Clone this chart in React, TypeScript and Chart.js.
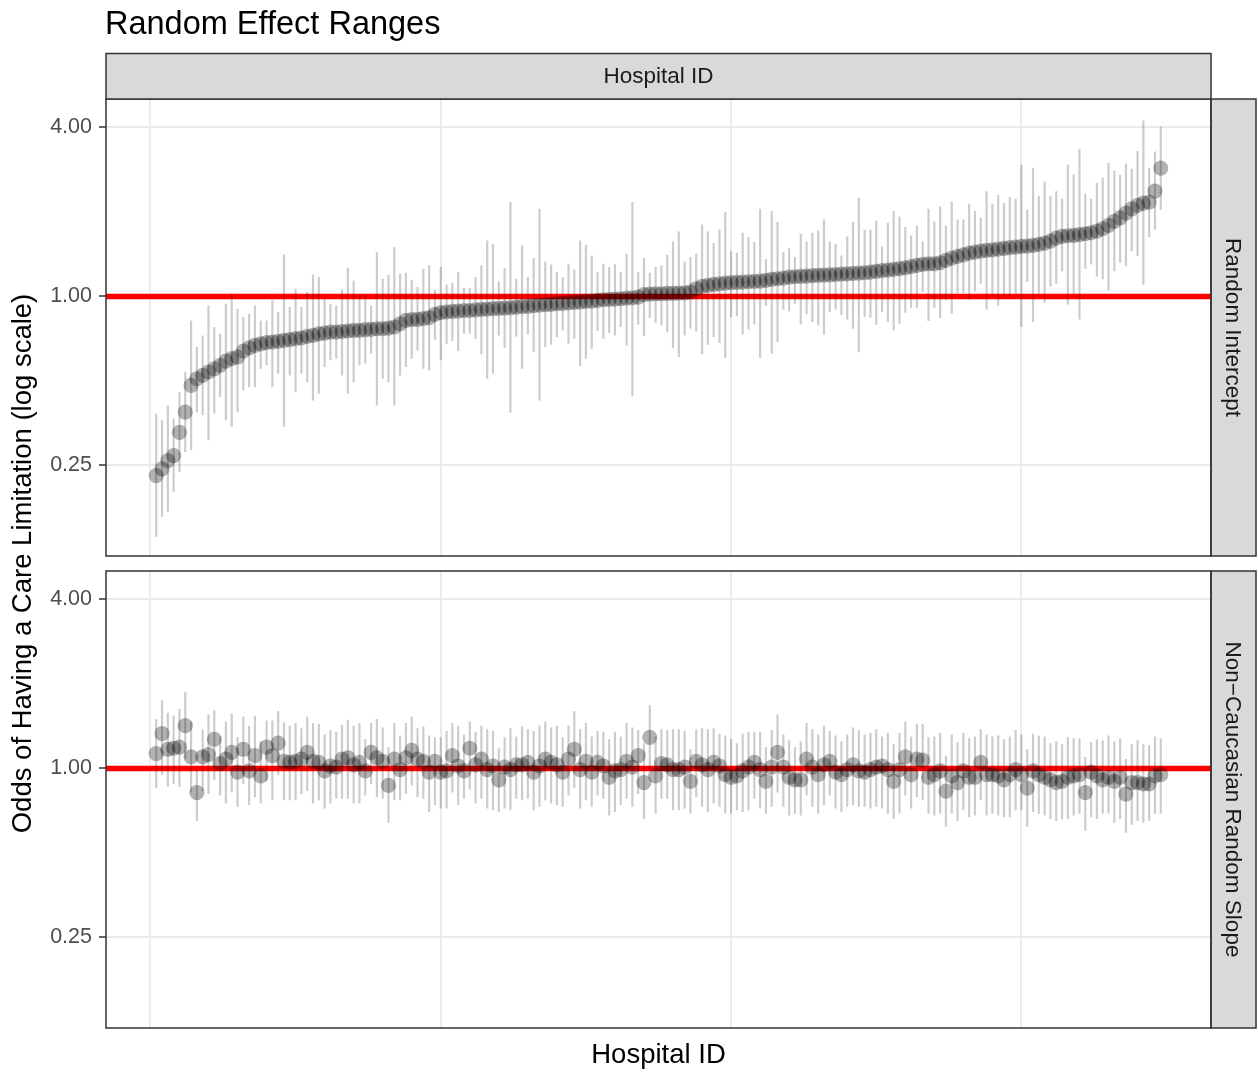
import React, { useEffect, useRef } from "react";
import { Chart, registerables } from "chart.js";

Chart.register(...registerables);

const FONT = '"Liberation Sans", Arial, Helvetica, sans-serif';

// x: hospitals ranked by their random intercept
const hospitalRank = Array.from({ length: 174 }, (_, i) => i + 1);
const yTickValues = [0.25, 1, 4];
const xGridValues = [0, 50, 100, 150];
const titleText = "Random Effect Ranges";
const stripTopText = "Hospital ID";
const panelLabels = ["Random Intercept", "Non\u2212Caucasian Random Slope"];
const xAxisTitle = "Hospital ID";
const yAxisTitle = "Odds of Having a Care Limitation (log scale)";
const referenceLine = 1;

const interceptEst = [
  0.230, 0.243, 0.260, 0.271, 0.328, 0.387, 0.482, 0.509, 0.523, 0.538,
  0.552, 0.568, 0.588, 0.600, 0.608, 0.639, 0.656, 0.669, 0.678, 0.684,
  0.688, 0.691, 0.697, 0.701, 0.707, 0.711, 0.720, 0.726, 0.736, 0.740,
  0.746, 0.746, 0.750, 0.753, 0.757, 0.757, 0.761, 0.763, 0.767, 0.767,
  0.771, 0.778, 0.799, 0.821, 0.826, 0.828, 0.833, 0.840, 0.863, 0.875,
  0.880, 0.884, 0.886, 0.891, 0.891, 0.896, 0.899, 0.901, 0.904, 0.906,
  0.909, 0.911, 0.916, 0.919, 0.921, 0.927, 0.931, 0.934, 0.936, 0.942,
  0.944, 0.949, 0.952, 0.955, 0.960, 0.962, 0.968, 0.973, 0.976, 0.978,
  0.981, 0.986, 0.989, 0.994, 1.014, 1.019, 1.022, 1.022, 1.025, 1.025,
  1.028, 1.030, 1.036, 1.065, 1.085, 1.094, 1.103, 1.109, 1.116, 1.119,
  1.122, 1.125, 1.128, 1.131, 1.134, 1.140, 1.150, 1.156, 1.162, 1.172,
  1.175, 1.178, 1.181, 1.185, 1.188, 1.191, 1.194, 1.197, 1.201, 1.204,
  1.208, 1.211, 1.214, 1.221, 1.228, 1.235, 1.241, 1.248, 1.255, 1.265,
  1.276, 1.290, 1.300, 1.307, 1.307, 1.318, 1.344, 1.369, 1.388, 1.407,
  1.427, 1.439, 1.451, 1.458, 1.466, 1.474, 1.482, 1.491, 1.499, 1.507,
  1.511, 1.519, 1.532, 1.549, 1.575, 1.614, 1.636, 1.645, 1.649, 1.659,
  1.672, 1.686, 1.709, 1.742, 1.790, 1.850, 1.906, 1.981, 2.052, 2.110,
  2.150, 2.168, 2.373, 2.866,
];

const interceptLo = [
  0.139, 0.164, 0.171, 0.201, 0.237, 0.279, 0.283, 0.387, 0.377, 0.307,
  0.382, 0.438, 0.362, 0.343, 0.387, 0.462, 0.475, 0.475, 0.552, 0.568,
  0.475, 0.530, 0.343, 0.523, 0.456, 0.530, 0.495, 0.426, 0.450, 0.560,
  0.592, 0.600, 0.523, 0.450, 0.495, 0.568, 0.575, 0.625, 0.409, 0.509,
  0.495, 0.409, 0.523, 0.560, 0.600, 0.642, 0.552, 0.545, 0.701, 0.592,
  0.678, 0.693, 0.639, 0.736, 0.736, 0.707, 0.622, 0.509, 0.530, 0.726,
  0.655, 0.385, 0.720, 0.552, 0.732, 0.633, 0.426, 0.660, 0.673, 0.716,
  0.757, 0.678, 0.707, 0.565, 0.600, 0.651, 0.753, 0.707, 0.740, 0.726,
  0.778, 0.669, 0.441, 0.792, 0.722, 0.837, 0.803, 0.788, 0.745, 0.655,
  0.608, 0.726, 0.767, 0.750, 0.622, 0.673, 0.716, 0.682, 0.603, 0.844,
  0.849, 0.732, 0.761, 0.795, 0.603, 0.924, 0.625, 0.688, 0.896, 0.884,
  0.942, 0.795, 0.863, 0.810, 0.788, 0.730, 0.880, 0.899, 0.860, 0.828,
  0.767, 0.633, 0.844, 0.840, 0.792, 0.880, 0.810, 0.757, 0.799, 0.875,
  0.911, 0.911, 1.036, 0.817, 0.911, 0.837, 0.968, 0.868, 1.028, 1.028,
  0.973, 1.042, 1.109, 0.896, 1.008, 0.929, 1.008, 1.003, 1.022, 0.778,
  1.125, 0.810, 1.022, 0.949, 1.085, 1.109, 1.228, 0.936, 1.014, 0.828,
  1.255, 1.300, 1.178, 1.150, 1.050, 1.228, 1.318, 1.282, 1.447, 1.392,
  1.100, 1.627, 1.728, 2.036,
];

const interceptHi = [
  0.382, 0.362, 0.409, 0.367, 0.456, 0.538, 0.821, 0.660, 0.726, 0.929,
  0.778, 0.736, 0.942, 1.022, 0.904, 0.844, 0.868, 0.929, 0.821, 0.821,
  0.968, 0.880, 1.411, 0.916, 1.065, 0.916, 1.036, 1.197, 1.172, 0.981,
  0.942, 0.929, 1.059, 1.265, 1.140, 1.008, 1.008, 0.929, 1.439, 1.156,
  1.194, 1.499, 1.204, 1.214, 1.146, 1.080, 1.255, 1.290, 1.056, 1.272,
  1.103, 1.119, 1.221, 1.071, 1.074, 1.172, 1.290, 1.583, 1.540, 1.131,
  1.262, 2.168, 1.156, 1.519, 1.172, 1.369, 2.052, 1.332, 1.300, 1.221,
  1.172, 1.307, 1.248, 1.583, 1.528, 1.400, 1.221, 1.307, 1.272, 1.303,
  1.218, 1.419, 2.168, 1.218, 1.369, 1.214, 1.272, 1.290, 1.407, 1.570,
  1.704, 1.332, 1.381, 1.419, 1.805, 1.704, 1.549, 1.733, 1.997, 1.447,
  1.431, 1.686, 1.627, 1.562, 2.052, 1.355, 2.014, 1.840, 1.439, 1.487,
  1.381, 1.672, 1.570, 1.686, 1.718, 1.880, 1.570, 1.540, 1.400, 1.636,
  1.840, 2.247, 1.728, 1.733, 1.865, 1.507, 1.830, 2.014, 1.928, 1.766,
  1.649, 1.790, 1.570, 2.052, 1.850, 2.092, 1.790, 2.180, 1.880, 1.880,
  2.139, 2.014, 1.906, 2.367, 2.139, 2.302, 2.150, 2.259, 2.228, 2.945,
  2.042, 2.873, 2.277, 2.569, 2.277, 2.367, 2.228, 2.953, 2.721, 3.359,
  2.321, 2.228, 2.533, 2.647, 2.993, 2.811, 2.713, 2.969, 2.850, 3.294,
  4.236, 2.873, 3.285, 4.033,
];

const slopeEst = [
  1.13, 1.33, 1.17, 1.18, 1.19, 1.42, 1.10, 0.82, 1.10, 1.12,
  1.27, 1.04, 1.08, 1.14, 0.97, 1.17, 0.98, 1.11, 0.94, 1.19,
  1.11, 1.23, 1.06, 1.05, 1.06, 1.08, 1.14, 1.06, 1.05, 0.98,
  1.02, 1.01, 1.08, 1.09, 1.03, 1.05, 0.98, 1.14, 1.09, 1.06,
  0.87, 1.08, 0.99, 1.09, 1.16, 1.08, 1.06, 0.97, 1.06, 0.97,
  0.98, 1.11, 1.02, 0.98, 1.18, 1.03, 1.08, 0.99, 1.02, 0.91,
  1.01, 0.99, 1.03, 1.03, 1.05, 0.97, 1.02, 1.08, 1.05, 1.03,
  0.97, 1.08, 1.17, 0.99, 1.06, 0.97, 1.05, 1.02, 0.93, 0.98,
  0.99, 1.06, 1.01, 1.11, 0.89, 1.29, 0.94, 1.04, 1.03, 0.99,
  0.99, 1.01, 0.90, 1.06, 1.03, 0.99, 1.05, 1.02, 0.95, 0.93,
  0.94, 0.98, 1.01, 1.05, 0.99, 0.90, 1.01, 1.14, 1.01, 0.93,
  0.91, 0.91, 1.08, 1.01, 0.95, 1.03, 1.06, 0.97, 0.95, 0.99,
  1.03, 0.98, 0.97, 0.99, 1.01, 1.02, 0.99, 0.90, 0.99, 1.10,
  0.95, 1.08, 1.07, 0.93, 0.95, 0.98, 0.83, 0.94, 0.89, 0.98,
  0.93, 0.93, 1.05, 0.95, 0.95, 0.94, 0.91, 0.95, 0.99, 0.95,
  0.85, 0.98, 0.95, 0.93, 0.91, 0.89, 0.90, 0.93, 0.94, 0.95,
  0.82, 0.97, 0.94, 0.91, 0.93, 0.90, 0.93, 0.81, 0.89, 0.89,
  0.88, 0.88, 0.94, 0.95,
];

const slopeLo = [
  0.85, 0.95, 0.86, 0.88, 0.86, 1.08, 0.82, 0.65, 0.83, 0.81,
  0.91, 0.80, 0.75, 0.82, 0.73, 0.88, 0.74, 0.79, 0.75, 0.90,
  0.77, 0.95, 0.77, 0.77, 0.77, 0.81, 0.83, 0.75, 0.77, 0.72,
  0.75, 0.78, 0.78, 0.78, 0.75, 0.75, 0.80, 0.88, 0.79, 0.78,
  0.64, 0.77, 0.77, 0.81, 0.87, 0.79, 0.78, 0.70, 0.74, 0.72,
  0.72, 0.82, 0.74, 0.78, 0.84, 0.75, 0.78, 0.72, 0.71, 0.70,
  0.72, 0.71, 0.78, 0.77, 0.78, 0.71, 0.73, 0.77, 0.75, 0.74,
  0.73, 0.80, 0.85, 0.72, 0.77, 0.73, 0.80, 0.78, 0.68, 0.70,
  0.74, 0.78, 0.73, 0.81, 0.66, 0.99, 0.69, 0.78, 0.78, 0.71,
  0.71, 0.72, 0.69, 0.79, 0.73, 0.70, 0.75, 0.73, 0.69, 0.69,
  0.71, 0.70, 0.71, 0.78, 0.72, 0.69, 0.73, 0.82, 0.73, 0.68,
  0.69, 0.68, 0.80, 0.73, 0.69, 0.74, 0.80, 0.72, 0.70, 0.73,
  0.74, 0.73, 0.73, 0.72, 0.73, 0.72, 0.69, 0.66, 0.69, 0.80,
  0.72, 0.79, 0.77, 0.69, 0.68, 0.69, 0.62, 0.69, 0.65, 0.71,
  0.67, 0.68, 0.77, 0.68, 0.69, 0.68, 0.67, 0.67, 0.71, 0.71,
  0.62, 0.70, 0.69, 0.68, 0.66, 0.65, 0.66, 0.66, 0.68, 0.69,
  0.60, 0.67, 0.66, 0.69, 0.69, 0.64, 0.66, 0.59, 0.63, 0.65,
  0.64, 0.65, 0.69, 0.69,
];

const slopeHi = [
  1.50, 1.75, 1.58, 1.54, 1.63, 1.87, 1.47, 0.99, 1.38, 1.56,
  1.61, 1.30, 1.47, 1.57, 1.29, 1.53, 1.42, 1.54, 1.25, 1.48,
  1.48, 1.60, 1.46, 1.42, 1.45, 1.39, 1.53, 1.45, 1.44, 1.32,
  1.37, 1.35, 1.43, 1.49, 1.42, 1.45, 1.27, 1.45, 1.50, 1.40,
  1.19, 1.45, 1.31, 1.45, 1.53, 1.39, 1.41, 1.31, 1.29, 1.29,
  1.36, 1.45, 1.42, 1.32, 1.47, 1.35, 1.42, 1.38, 1.36, 1.18,
  1.29, 1.39, 1.30, 1.41, 1.38, 1.36, 1.42, 1.47, 1.40, 1.42,
  1.29, 1.42, 1.60, 1.38, 1.45, 1.30, 1.36, 1.35, 1.27, 1.35,
  1.30, 1.45, 1.40, 1.37, 1.23, 1.68, 1.30, 1.38, 1.37, 1.38,
  1.38, 1.36, 1.17, 1.38, 1.39, 1.38, 1.39, 1.33, 1.31, 1.27,
  1.23, 1.33, 1.35, 1.35, 1.35, 1.19, 1.37, 1.56, 1.32, 1.26,
  1.19, 1.25, 1.45, 1.38, 1.32, 1.42, 1.36, 1.31, 1.25, 1.32,
  1.40, 1.37, 1.32, 1.34, 1.38, 1.30, 1.34, 1.22, 1.34, 1.47,
  1.30, 1.44, 1.44, 1.29, 1.30, 1.34, 1.11, 1.32, 1.24, 1.34,
  1.28, 1.30, 1.38, 1.32, 1.30, 1.31, 1.27, 1.30, 1.37, 1.32,
  1.17, 1.33, 1.31, 1.30, 1.23, 1.25, 1.22, 1.29, 1.28, 1.28,
  1.10, 1.24, 1.27, 1.26, 1.31, 1.25, 1.28, 1.08, 1.22, 1.26,
  1.22, 1.21, 1.30, 1.28,
];

const X_MIN = -7.65;
const X_MAX = 182.65;
const Y_MIN = 0.1189;
const Y_MAX = 5.05;

const W = 1258;
const H = 1072;
const STRIP = 45;

function drawFrame(chart: any, label: string) {
  const { ctx, chartArea: ca } = chart;
  ctx.save();
  ctx.fillStyle = "#D9D9D9";
  ctx.fillRect(ca.right, ca.top, STRIP, ca.bottom - ca.top);
  ctx.strokeStyle = "#333333";
  ctx.lineWidth = 1.5;
  ctx.strokeRect(ca.right, ca.top, STRIP, ca.bottom - ca.top);
  ctx.strokeRect(ca.left, ca.top, ca.right - ca.left, ca.bottom - ca.top);
  ctx.translate(ca.right + STRIP / 2, (ca.top + ca.bottom) / 2);
  ctx.rotate(Math.PI / 2);
  ctx.fillStyle = "#1A1A1A";
  ctx.font = `22.5px ${FONT}`;
  ctx.textAlign = "center";
  ctx.textBaseline = "middle";
  ctx.fillText(label, 0, 1);
  ctx.restore();
}

function drawOuter(chart: any) {
  const { ctx, chartArea: ca } = chart;
  ctx.save();
  // title
  ctx.fillStyle = "#000000";
  ctx.font = `32.5px ${FONT}`;
  ctx.textAlign = "left";
  ctx.textBaseline = "alphabetic";
  ctx.fillText(titleText, 105, 34);
  // top strip
  const stripTop = ca.top - 45.5;
  ctx.fillStyle = "#D9D9D9";
  ctx.fillRect(ca.left, stripTop, ca.right - ca.left, 45.5);
  ctx.strokeStyle = "#333333";
  ctx.lineWidth = 1.5;
  ctx.strokeRect(ca.left, stripTop, ca.right - ca.left, 45.5);
  ctx.fillStyle = "#1A1A1A";
  ctx.font = `22.5px ${FONT}`;
  ctx.textAlign = "center";
  ctx.textBaseline = "middle";
  ctx.fillText(stripTopText, (ca.left + ca.right) / 2, stripTop + 23.5);
  // x axis title
  ctx.fillStyle = "#000000";
  ctx.font = `27.5px ${FONT}`;
  ctx.textBaseline = "alphabetic";
  ctx.fillText(xAxisTitle, (ca.left + ca.right) / 2, 1063);
  // y axis title
  ctx.translate(31, (99 + 1028) / 2);
  ctx.rotate(-Math.PI / 2);
  ctx.fillText(yAxisTitle, 0, 0);
  ctx.restore();
}

function makeChart(
  canvas: HTMLCanvasElement,
  est: number[],
  lo: number[],
  hi: number[],
  label: string,
  padTop: number,
  padBottom: number,
  outer: boolean
) {
  const errData: any[] = [];
  hospitalRank.forEach((id, k) => {
    errData.push({ x: id, y: lo[k] }, { x: id, y: hi[k] }, { x: id, y: null });
  });
  const ptData = hospitalRank.map((id, k) => ({ x: id, y: est[k] }));
  const refData = [
    { x: X_MIN, y: referenceLine },
    { x: X_MAX, y: referenceLine },
  ];

  return new Chart(canvas, {
    type: "scatter",
    data: {
      datasets: [
        {
          type: "line",
          data: refData,
          borderColor: "#FF0000",
          borderWidth: 5.5,
          pointRadius: 0,
          borderCapStyle: "butt",
          clip: 0,
          order: 3,
        } as any,
        {
          type: "line",
          data: errData,
          borderColor: "rgba(0,0,0,0.2)",
          borderWidth: 2.2,
          pointRadius: 0,
          spanGaps: false,
          borderCapStyle: "butt",
          order: 2,
        } as any,
        {
          type: "scatter",
          data: ptData,
          backgroundColor: "rgba(0,0,0,0.3)",
          borderWidth: 0,
          pointRadius: 7.6,
          pointHoverRadius: 7.6,
          order: 1,
        } as any,
      ],
    },
    options: {
      responsive: false,
      animation: false,
      devicePixelRatio: 1,
      events: [],
      layout: { padding: { top: padTop, bottom: padBottom, left: 0, right: W - 1211 } },
      plugins: {
        legend: { display: false },
        tooltip: { enabled: false },
        title: { display: false },
      },
      scales: {
        x: {
          type: "linear",
          min: X_MIN,
          max: X_MAX,
          afterBuildTicks: (s: any) => {
            s.ticks = xGridValues.map((v) => ({ value: v }));
          },
          afterFit: (s: any) => {
            s.height = 0;
          },
          ticks: { display: false },
          grid: { color: "#EBEBEB", lineWidth: 2, drawTicks: false },
          border: { display: false },
        },
        y: {
          type: "logarithmic",
          min: Y_MIN,
          max: Y_MAX,
          afterBuildTicks: (s: any) => {
            s.ticks = yTickValues.map((v) => ({ value: v }));
          },
          afterFit: (s: any) => {
            s.width = 106;
          },
          ticks: {
            callback: (v: any) => Number(v).toFixed(2),
            color: "#4D4D4D",
            font: { family: FONT, size: 21.5 },
            padding: 7,
            autoSkip: false,
          },
          grid: {
            color: "#EBEBEB",
            lineWidth: 2,
            tickColor: "#333333",
            tickLength: 7,
            tickWidth: 1.5,
            drawTicks: true,
          },
          border: { display: false },
        },
      },
    } as any,
    plugins: [
      {
        id: "facetFrame",
        afterDraw(chart: any) {
          drawFrame(chart, label);
          if (outer) drawOuter(chart);
        },
      },
    ],
  });
}

export default function App() {
  const topRef = useRef<HTMLCanvasElement | null>(null);
  const bottomRef = useRef<HTMLCanvasElement | null>(null);

  useEffect(() => {
    if (!topRef.current || !bottomRef.current) return;
    const a = makeChart(topRef.current, interceptEst, interceptLo, interceptHi, panelLabels[0], 99, H - 556, true);
    const b = makeChart(bottomRef.current, slopeEst, slopeLo, slopeHi, panelLabels[1], 571, H - 1028, false);
    return () => {
      a.destroy();
      b.destroy();
    };
  }, []);

  const cs: React.CSSProperties = { position: "absolute", left: 0, top: 0, width: W, height: H };
  return (
    <div style={{ position: "absolute", left: 0, top: 0, width: W, height: H, background: "#FFFFFF" }}>
      <canvas ref={topRef} width={W} height={H} style={cs} />
      <canvas ref={bottomRef} width={W} height={H} style={cs} />
    </div>
  );
}
